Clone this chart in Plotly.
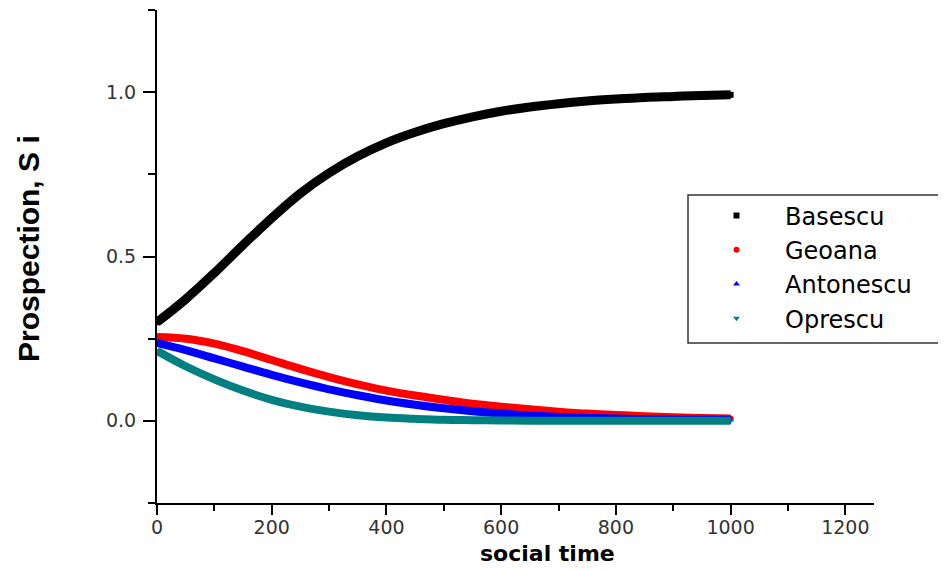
import plotly.graph_objects as go

social_time = [0, 50, 100, 150, 200, 250, 300, 350, 400, 450, 500,
               550, 600, 650, 700, 750, 800, 850, 900, 950, 1000]
basescu = [0.300, 0.370, 0.450, 0.535, 0.617, 0.692, 0.754, 0.805, 0.846, 0.878, 0.904,
           0.925, 0.942, 0.955, 0.965, 0.973, 0.979, 0.984, 0.987, 0.990, 0.992]
geoana = [0.255, 0.250, 0.235, 0.212, 0.185, 0.158, 0.133, 0.111, 0.092, 0.077, 0.064,
          0.052, 0.043, 0.035, 0.028, 0.022, 0.018, 0.014, 0.011, 0.009, 0.007]
antonescu = [0.237, 0.215, 0.190, 0.165, 0.140, 0.117, 0.096, 0.078, 0.062, 0.049, 0.038,
             0.029, 0.022, 0.016, 0.012, 0.009, 0.007, 0.005, 0.004, 0.003, 0.003]
oprescu = [0.213, 0.166, 0.126, 0.092, 0.064, 0.043, 0.028, 0.017, 0.010, 0.006, 0.003,
           0.002, 0.001, 0.000, 0.000, 0.000, 0.000, 0.000, 0.000, 0.000, 0.000]

series_names = ["Basescu", "Geoana", "Antonescu", "Oprescu"]
x_ticks = [0, 200, 400, 600, 800, 1000, 1200]
y_ticks = [0.0, 0.5, 1.0]

colors = ["#000000", "#ff0000", "#0000ff", "#008080"]
symbols = ["square", "circle", "triangle-up", "triangle-down"]
widths = [9, 8, 8, 8]
values = [basescu, geoana, antonescu, oprescu]

fig = go.Figure()
# legend entries (markers), drawn underneath the thick curves
for name, ys, c, s in zip(series_names, values, colors, symbols):
    fig.add_trace(go.Scatter(x=social_time, y=ys, mode="markers", name=name,
                             marker=dict(color=c, size=6, symbol=s),
                             legendgroup=name))
for name, ys, c, w in zip(series_names, values, colors, widths):
    fig.add_trace(go.Scatter(x=social_time, y=ys, mode="lines",
                             line=dict(color=c, width=w, shape="spline"),
                             showlegend=False, legendgroup=name, hoverinfo="skip"))

PL, PR, PT, PB = 157, 874, 10, 503  # plot area in page pixels
def px_x(p):
    return (p - PL) / (PR - PL)
def px_y(p):
    return (PB - p) / (PB - PT)

tickfont = dict(family="DejaVu Sans", size=19, color="#333333")
fig.update_layout(
    width=938, height=561,
    margin=dict(l=149, r=72, t=2, b=66, autoexpand=False),
    plot_bgcolor="white", paper_bgcolor="white",
    showlegend=True,
    legend=dict(x=px_x(688), y=px_y(193.5), xanchor="left", yanchor="top",
                borderwidth=0, bgcolor="rgba(0,0,0,0)",
                font=dict(family="DejaVu Sans", size=24, color="#000000"),
                itemwidth=87, tracegroupgap=0),
    shapes=[dict(type="rect", xref="paper", yref="paper",
                 x0=px_x(688), x1=1.3, y0=px_y(343), y1=px_y(195),
                 line=dict(color="#333333", width=1.5), fillcolor="white", layer="below")],
    xaxis=dict(range=[0, 1250], tickvals=x_ticks, ticktext=[str(v) for v in x_ticks],
               showgrid=False, zeroline=False, showline=True, linecolor="black", linewidth=2,
               ticks="outside", ticklen=10, tickwidth=2, tickcolor="black",
               tickfont=tickfont, ticklabelstandoff=-4,
               minor=dict(dtick=100, tick0=0, ticks="outside", ticklen=6, tickwidth=2, tickcolor="black")),
    yaxis=dict(range=[-0.25, 1.25], tickvals=y_ticks, ticktext=["%.1f" % v for v in y_ticks],
               showgrid=False, zeroline=False, showline=True, linecolor="black", linewidth=2,
               ticks="outside", ticklen=12, tickwidth=2, tickcolor="black",
               tickfont=tickfont, ticklabelstandoff=3,
               minor=dict(dtick=0.25, tick0=0, ticks="outside", ticklen=7, tickwidth=2, tickcolor="black")),
    annotations=[
        dict(text="social time", xref="paper", yref="paper", x=px_x(547), y=px_y(553),
             xanchor="center", yanchor="middle", showarrow=False,
             font=dict(family="DejaVu Sans", size=22, color="black", weight="bold")),
        dict(text="Prospection, S i", xref="paper", yref="paper", x=px_x(28), y=px_y(249),
             xanchor="center", yanchor="middle", showarrow=False, textangle=-90,
             font=dict(family="Liberation Sans", size=30, color="black", weight="bold")),
    ],
)
fig.write_html("out.html")
